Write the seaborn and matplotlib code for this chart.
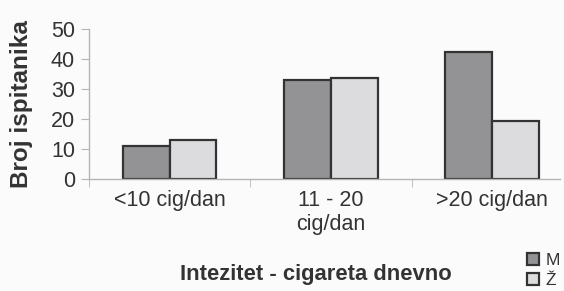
import pandas as pd
import matplotlib.pyplot as plt
import seaborn as sns

kategorije = ["<10 cig/dan", "11 - 20\ncig/dan", ">20 cig/dan"]
muski = [11, 33, 42.5]
zenski = [13, 33.7, 19.5]
pol = ["M", "Ž"]

df = pd.DataFrame({
    "kat": kategorije * 2,
    "broj": muski + zenski,
    "pol": [pol[0]] * 3 + [pol[1]] * 3,
})

sns.set_style("white")
plt.rcParams['font.family'] = ['Liberation Sans', 'DejaVu Sans']

fig = plt.figure(figsize=(5.64, 2.91), dpi=100, facecolor="#fbfbfb")
ax = fig.add_axes([89/564, 1-179/291, (560-89)/564, 150/291])
ax.set_facecolor("#fbfbfb")

sns.barplot(data=df, x="kat", y="broj", hue="pol", palette=["#939396", "#dcdcde"],
            edgecolor="#333333", linewidth=1.6, width=0.58, ax=ax)

ax.set_ylim(0, 50)
ax.set_xlim(-0.5, 2.42)
ax.set_yticks([0, 10, 20, 30, 40, 50])
for s in ["top", "right"]:
    ax.spines[s].set_visible(False)
for s in ["left", "bottom"]:
    ax.spines[s].set_color("#b5b5b5")
    ax.spines[s].set_linewidth(1)

ax.tick_params(axis="y", direction="out", length=6, color="#b5b5b5", labelsize=15.5,
               labelcolor="#333333", pad=4, left=True)
ax.tick_params(axis="x", which="major", length=0, labelsize=15.5, labelcolor="#333333", pad=8)
ax.set_xticks([-0.5, 0.5, 1.5], minor=True)
ax.tick_params(axis="x", which="minor", direction="out", length=6, color="#b5b5b5", bottom=True)

ax.set_ylabel("Broj ispitanika", fontsize=17.5, fontweight="bold", color="#333333")
ax.yaxis.set_label_coords(-0.118, 0.5)
ax.set_xlabel("Intezitet - cigareta dnevno", fontsize=15.8, fontweight="bold", color="#333333")
ax.xaxis.set_label_coords(0.482, -0.565)

handles, labels = ax.get_legend_handles_labels()
ax.legend(handles, labels, loc="upper left", bbox_to_anchor=(511/564, 1-237/291),
          bbox_transform=fig.transFigure, frameon=False, fontsize=12.5,
          handlelength=0.7, handleheight=0.7, handletextpad=0.4, labelspacing=0.3,
          labelcolor="#333333")

fig.savefig("out.png", dpi=100, facecolor=fig.get_facecolor())
